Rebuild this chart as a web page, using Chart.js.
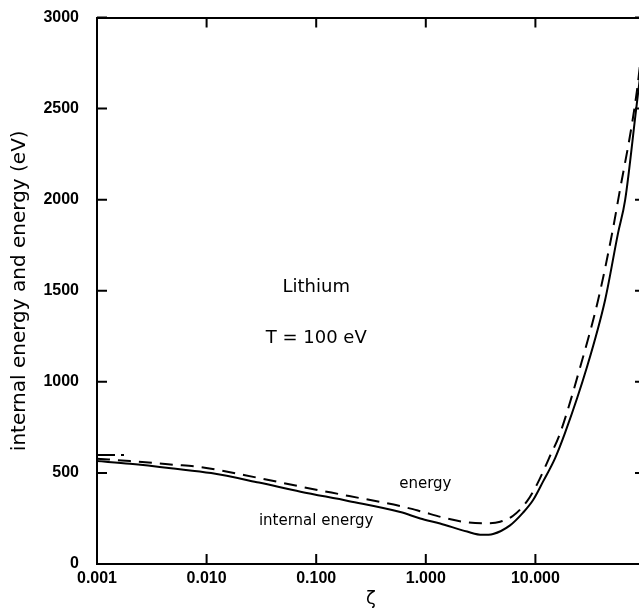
<!DOCTYPE html>
<html>
<head>
<meta charset="utf-8">
<script src="https://cdn.jsdelivr.net/npm/chart.js@4.4.1/dist/chart.umd.min.js"></script>
<style>
    html, body { margin: 0; padding: 0; background: #fff; overflow: hidden; }
    #wrap { width: 639px; height: 611px; overflow: hidden; }
    canvas { display: block; }
</style>
</head>
<body>
<div id="wrap"><canvas id="energy-chart" width="660" height="611"></canvas></div>
<script>
/**
 * Internal energy (solid curve).
 */
var INTERNAL_ZETA = [0.001, 0.002, 0.005, 0.011, 0.03, 0.072, 0.2, 0.585, 0.89, 1.35, 2.38, 3.27, 4.11, 5.87, 7.72, 9.53, 11.8, 15.1, 18.6, 29.5, 43.2, 56.7, 65.8, 82.8, 100];
var INTERNAL_EV = [565, 550, 524, 499, 447, 397, 345, 285, 250, 222, 178, 160, 165, 212, 282, 351, 455, 580, 718, 1080, 1448, 1815, 1996, 2490, 2900];

/**
 * Energy (dashed curve).
 */
var ENERGY_ZETA = [0.001, 0.002, 0.005, 0.0088, 0.03, 0.072, 0.2, 0.585, 0.89, 1.44, 2.19, 3.63, 4.77, 6.26, 8.4, 10.4, 13.3, 16.8, 25.6, 37.3, 50.1, 56.8, 84.5, 100];
var ENERGY_EV = [578, 565, 545, 532, 472, 425, 373, 318, 290, 255, 232, 224, 232, 265, 345, 440, 580, 718, 1080, 1448, 1815, 1996, 2600, 3000];

/**
 * Short stray dash at the start of the energy curve.
 */
var STUB_ZETA = [0.001, 0.00182];
var STUB_EV = [598, 598];

var X_TICKS = [0.001, 0.01, 0.1, 1, 10];
var X_TICKS_TOP = [0.001, 0.01, 0.1, 1, 10, 100];

/**
 * Text written inside the plot: [text, zeta, eV, font size].
 */
var NOTES = [
    ['Lithium', 0.1, 1519, 18],
    ['T = 100 eV', 0.1, 1240, 18],
    ['energy', 0.99, 439, 15],
    ['internal energy', 0.1, 236, 15]
];

var FONT = "'DejaVu Sans', sans-serif";
var TICK_FONT = "'Liberation Sans', Arial, sans-serif";

function toPoints(xs, ys) {
    var points = [];
    for (var i = 0; i < xs.length; i++) {
        points.push({x: xs[i], y: ys[i]});
    }
    return points;
}

function fixTicks(values) {
    return function (scale) {
        scale.ticks = values.map(function (v) {
            return {value: v};
        });
    };
}

/**
 * Gives a scale a fixed thickness and drops the extra room it asks for
 * around its end labels.
 */
function fixSize(prop, size) {
    return function (scale) {
        scale[prop] = size;
        scale.paddingTop = 0;
        scale.paddingBottom = 0;
        scale.paddingLeft = 0;
        scale.paddingRight = 0;
    };
}

/**
 * Draws tick marks pointing into the plot on all four sides,
 * then the text notes.
 */
var inwardTicks = {
    id: 'inwardTicks',
    afterDatasetsDraw: function (chart) {
        var ctx = chart.ctx;
        var area = chart.chartArea;
        var len = 10;
        ctx.save();
        ctx.strokeStyle = '#000';
        ctx.lineWidth = 2;
        ctx.beginPath();
        ['x', 'xTop'].forEach(function (id) {
            var scale = chart.scales[id];
            scale.ticks.forEach(function (t) {
                var px = scale.getPixelForValue(t.value);
                if (id === 'x') {
                    ctx.moveTo(px, area.bottom);
                    ctx.lineTo(px, area.bottom - len);
                } else {
                    ctx.moveTo(px, area.top);
                    ctx.lineTo(px, area.top + len);
                }
            });
        });
        ['y', 'yRight'].forEach(function (id) {
            var scale = chart.scales[id];
            scale.ticks.forEach(function (t) {
                var py = scale.getPixelForValue(t.value);
                if (id === 'y') {
                    ctx.moveTo(area.left, py);
                    ctx.lineTo(area.left + len, py);
                } else {
                    ctx.moveTo(area.right, py);
                    ctx.lineTo(area.right - len, py);
                }
            });
        });
        ctx.stroke();

        // labels inside the plot
        ctx.fillStyle = '#000';
        ctx.textAlign = 'center';
        ctx.textBaseline = 'middle';
        for (var i = 0; i < NOTES.length; i++) {
            var n = NOTES[i];
            ctx.font = n[3] + 'px ' + FONT;
            ctx.fillText(n[0], chart.scales.x.getPixelForValue(n[1]), chart.scales.y.getPixelForValue(n[2]));
        }
        ctx.restore();
    }
};

function createChart() {
    Chart.defaults.color = '#000';
    Chart.defaults.font.family = FONT;

    var line = {
        borderColor: '#000',
        borderWidth: 2,
        pointRadius: 0,
        fill: false,
        cubicInterpolationMode: 'monotone'
    };
    var tickFont = {family: TICK_FONT, size: 16, weight: 'bold'};

    return new Chart(document.getElementById('energy-chart').getContext('2d'), {
        type: 'line',
        data: {
            datasets: [
                Object.assign({label: 'internal energy', data: toPoints(INTERNAL_ZETA, INTERNAL_EV)}, line),
                Object.assign({label: 'energy', data: toPoints(ENERGY_ZETA, ENERGY_EV), borderDash: [13, 8]}, line),
                Object.assign({label: 'energy start', data: toPoints(STUB_ZETA, STUB_EV), borderDash: [18, 6, 3, 40]}, line)
            ]
        },
        plugins: [inwardTicks],
        options: {
            responsive: false,
            animation: false,
            layout: {padding: 0},
            plugins: {
                legend: {display: false},
                tooltip: {enabled: false}
            },
            scales: {
                x: {
                    type: 'logarithmic',
                    position: 'bottom',
                    min: 0.001,
                    max: 100,
                    afterBuildTicks: fixTicks(X_TICKS),
                    afterFit: fixSize('height', 47),
                    grid: {display: false, drawTicks: false},
                    border: {display: true, color: '#000', width: 2},
                    ticks: {
                        padding: 5,
                        maxRotation: 0,
                        autoSkip: false,
                        font: tickFont,
                        callback: function (v) { return Number(v).toFixed(3); }
                    },
                    title: {display: true, text: 'ζ', font: {size: 18}, padding: {top: 0, bottom: 1}}
                },
                xTop: {
                    type: 'logarithmic',
                    position: 'top',
                    min: 0.001,
                    max: 100,
                    afterBuildTicks: fixTicks(X_TICKS_TOP),
                    afterFit: fixSize('height', 17.5),
                    grid: {display: false, drawTicks: false},
                    border: {display: true, color: '#000', width: 2},
                    ticks: {display: false}
                },
                y: {
                    type: 'linear',
                    position: 'left',
                    min: 0,
                    max: 3000,
                    afterFit: fixSize('width', 97),
                    grid: {display: false, drawTicks: false},
                    border: {display: true, color: '#000', width: 2},
                    ticks: {
                        stepSize: 500,
                        padding: 18,
                        font: tickFont,
                        callback: function (v) { return String(v); }
                    },
                    title: {display: true, text: 'internal energy and energy (eV)', font: {size: 20}, padding: {top: 8, bottom: 0}}
                },
                yRight: {
                    type: 'linear',
                    position: 'right',
                    min: 0,
                    max: 3000,
                    afterFit: fixSize('width', 15),
                    grid: {display: false, drawTicks: false},
                    border: {display: true, color: '#000', width: 2},
                    ticks: {stepSize: 500, display: false}
                }
            }
        }
    });
}

createChart();
</script>
</body>
</html>
